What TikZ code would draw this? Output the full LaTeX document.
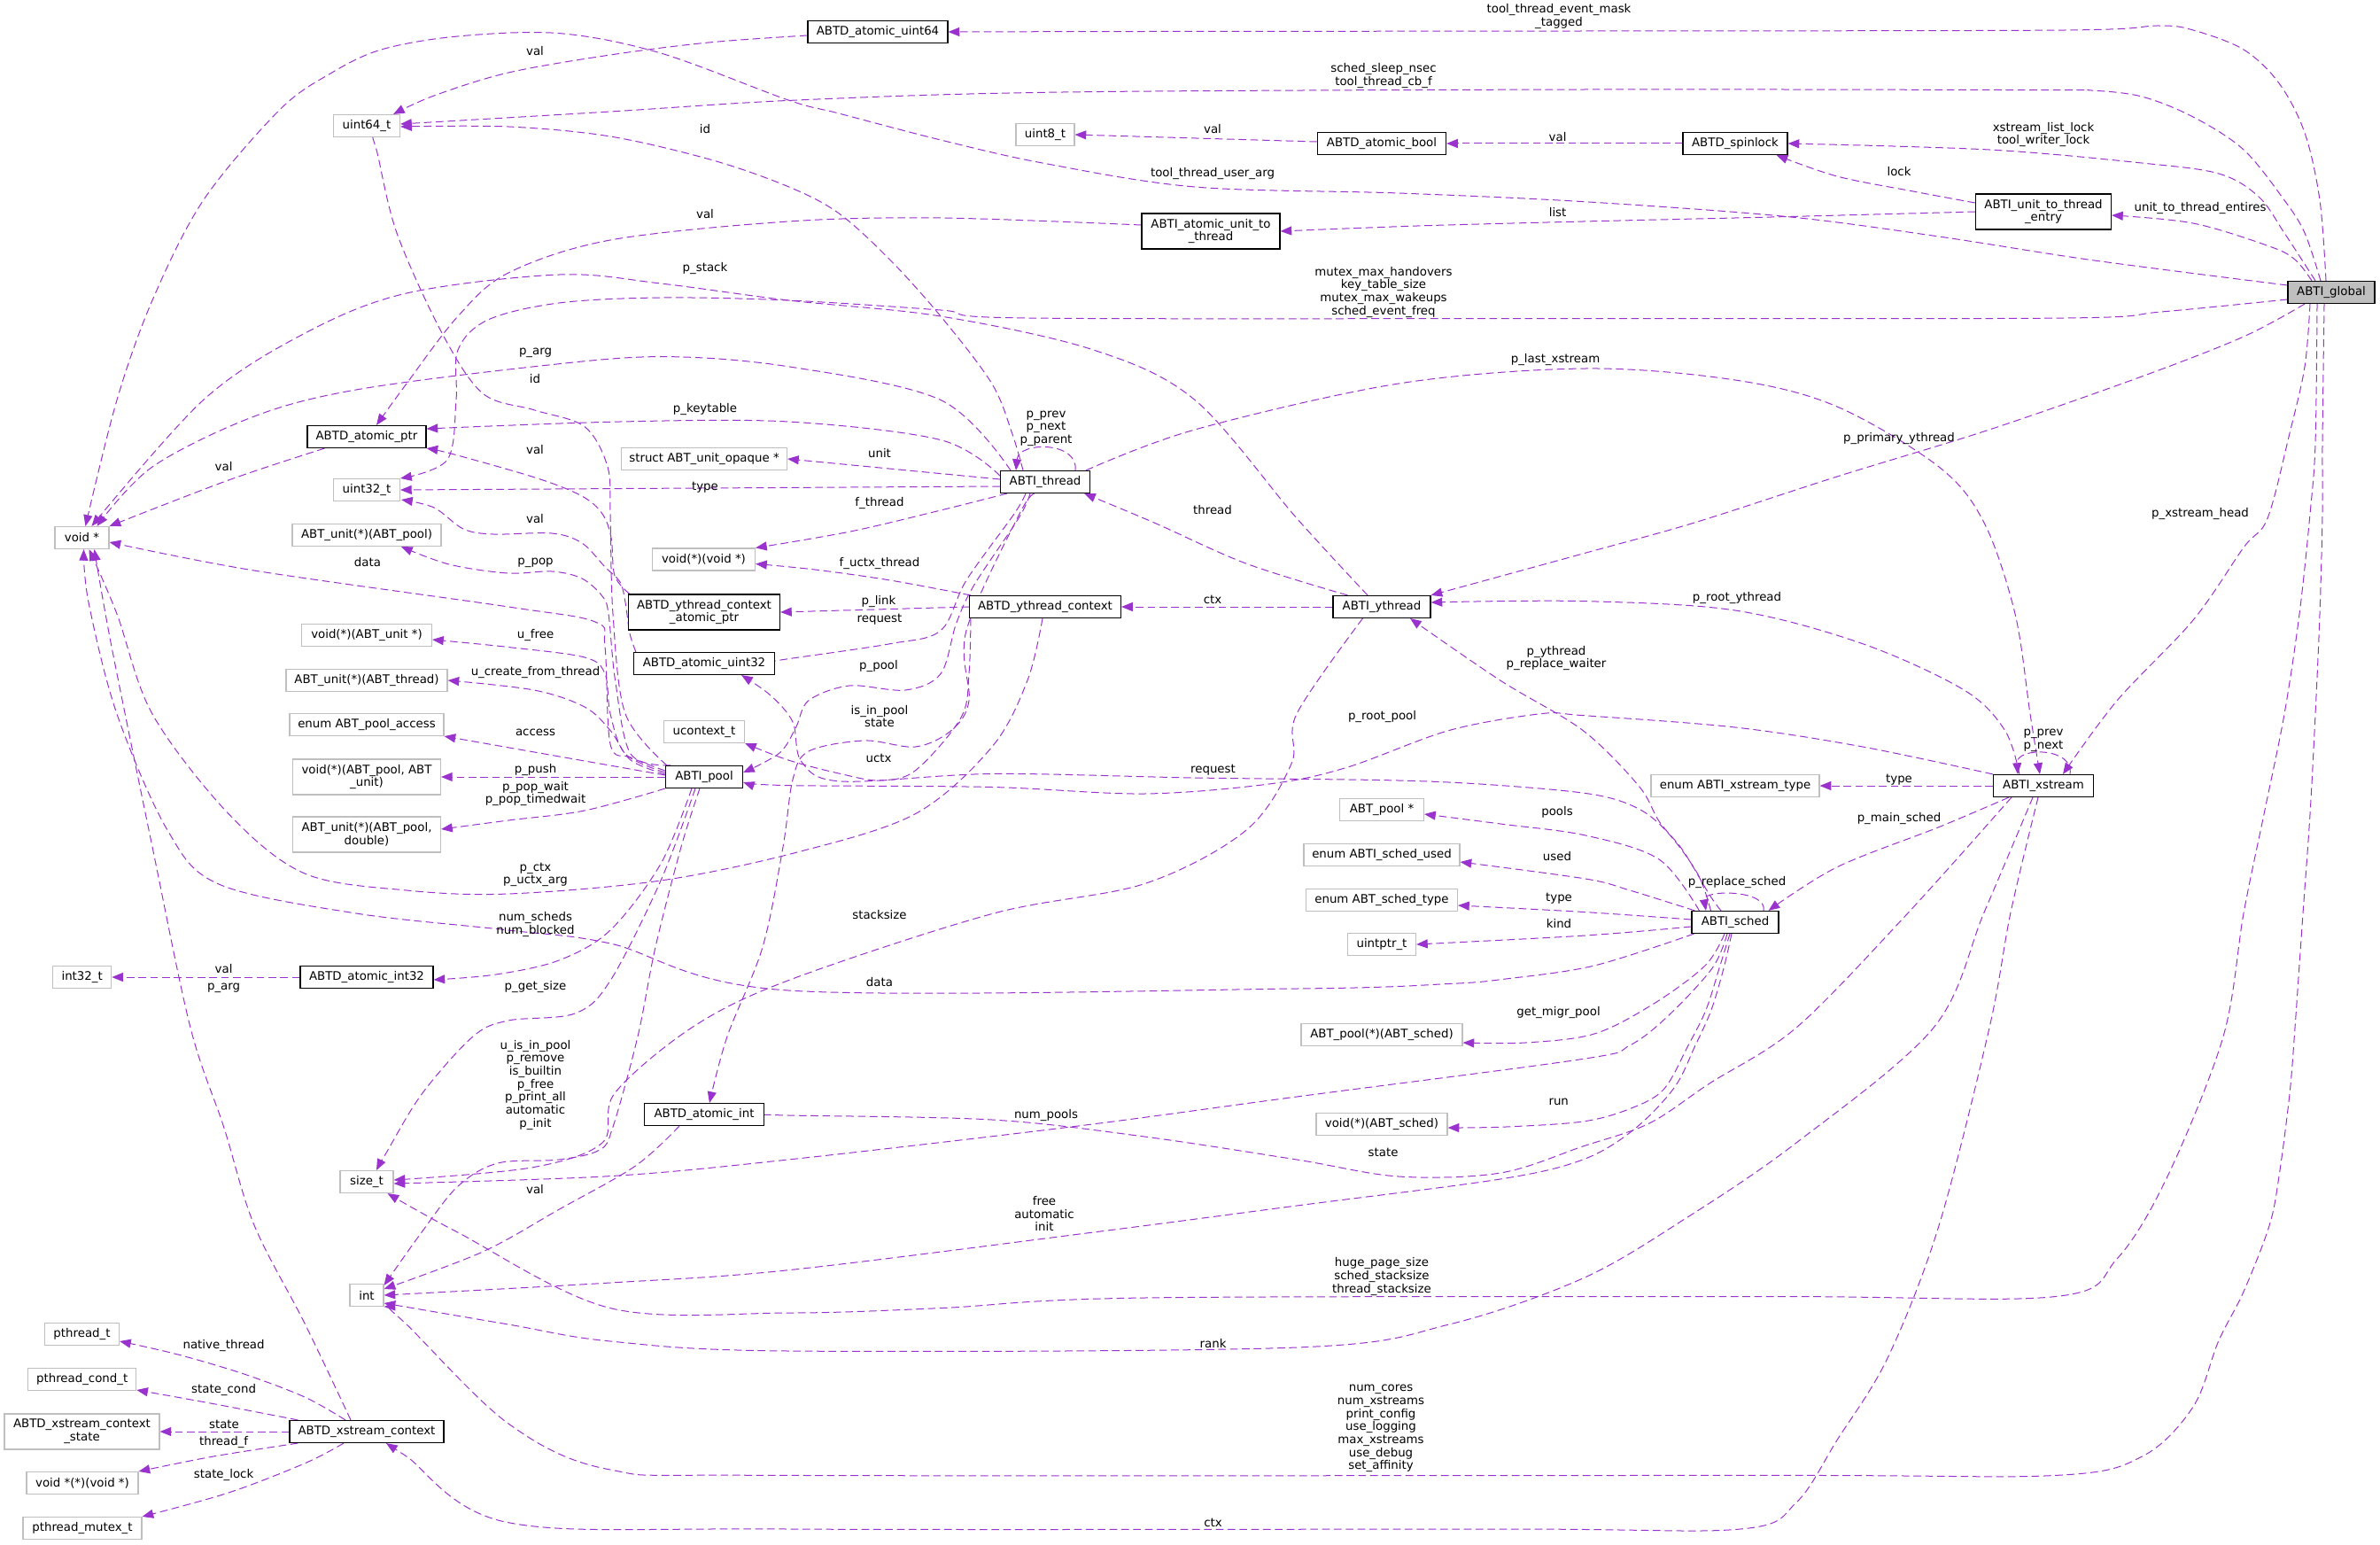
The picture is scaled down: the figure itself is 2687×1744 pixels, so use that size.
\documentclass[tikz,border=0pt]{standalone}
\usepackage{fontspec}
\setmainfont{DejaVu Sans}
\usetikzlibrary{arrows.meta,calc}
\definecolor{epurple}{HTML}{9A32CD}
\definecolor{gbord}{HTML}{BFBFBF}
\definecolor{gfill}{HTML}{BFBFBF}
\pgfdeclarelayer{bg}
\pgfsetlayers{bg,main}
\begin{document}
\begin{tikzpicture}[x=0.75pt,y=-0.75pt,
 font=\fontsize{10}{11}\selectfont,
 cls/.style={draw=black,line width=0.85pt,fill=white,inner sep=0pt,align=center,minimum height=18.75pt},
 ext/.style={draw=gbord,line width=0.85pt,fill=white,inner sep=0pt,align=center,minimum height=18.75pt},
 two/.style={minimum height=30pt},
 lab/.style={inner sep=0pt,align=center},
 edg/.style={draw=epurple,line width=0.75pt,dash pattern=on 6.5pt off 3.5pt,-{Triangle[length=9.5pt,width=7.5pt]}}]
\useasboundingbox (0,0) rectangle (2687,1744);
% ---------------- nodes
\node[cls,minimum width=118.5pt] (aui64) at (991,36) {ABTD\_atomic\_uint64};
\node[ext,minimum width=56.25pt] (uint64) at (414,142) {uint64\_t};
\node[ext,minimum width=49.5pt] (uint8) at (1180,152) {uint8\_t};
\node[cls,minimum width=108.75pt] (abool) at (1560,162) {ABTD\_atomic\_bool};
\node[cls,minimum width=88.5pt] (spinlock) at (1959,162) {ABTD\_spinlock};
\node[cls,two,minimum width=114.75pt] (entry) at (2307,239) {ABTI\_unit\_to\_thread\\\_entry};
\node[cls,two,minimum width=117pt] (aut) at (1367,261) {ABTI\_atomic\_unit\_to\\\_thread};
\node[cls,fill=gfill,minimum width=73.5pt] (global) at (2632,330) {ABTI\_global};
\node[cls,minimum width=100.5pt] (aptr) at (414,493) {ABTD\_atomic\_ptr};
\node[ext,minimum width=56.25pt] (uint32) at (414,553) {uint32\_t};
\node[ext,minimum width=140.25pt] (unitop) at (795,518) {struct ABT\_unit\_opaque *};
\node[cls,minimum width=75.75pt] (thread) at (1180,544) {ABTI\_thread};
\node[ext,minimum width=45.75pt] (voidp) at (92.5,607) {void *};
\node[ext,minimum width=126pt] (upool) at (414,604) {ABT\_unit(*)(ABT\_pool)};
\node[ext,minimum width=87pt] (vfv) at (794.5,631.5) {void(*)(void *)};
\node[cls,two,minimum width=128.25pt] (yctxptr) at (795,691) {ABTD\_ythread\_context\\\_atomic\_ptr};
\node[ext,minimum width=110.25pt] (vfunit) at (414,717) {void(*)(ABT\_unit *)};
\node[cls,minimum width=119.25pt] (auint32) at (795,749) {ABTD\_atomic\_uint32};
\node[ext,minimum width=136.5pt] (uthread) at (414,768) {ABT\_unit(*)(ABT\_thread)};
\node[ext,minimum width=130.5pt] (access) at (414,818) {enum ABT\_pool\_access};
\node[ext,minimum width=68.25pt] (ucontext) at (795,826) {ucontext\_t};
\node[ext,two,minimum width=125.25pt] (push) at (414,877) {void(*)(ABT\_pool, ABT\\\_unit)};
\node[cls,minimum width=65.25pt] (pool) at (795,877) {ABTI\_pool};
\node[ext,two,minimum width=125.25pt] (popwait) at (414,942) {ABT\_unit(*)(ABT\_pool,\\double)};
\node[cls,minimum width=128.25pt] (yctx) at (1180,685) {ABTD\_ythread\_context};
\node[cls,minimum width=82.5pt] (ythread) at (1560,685) {ABTI\_ythread};
\node[ext,minimum width=142.5pt] (xtype) at (1959,887) {enum ABTI\_xstream\_type};
\node[cls,minimum width=84.75pt] (xstream) at (2307,887) {ABTI\_xstream};
\node[ext,minimum width=71.25pt] (poolp) at (1560,914) {ABT\_pool *};
\node[ext,minimum width=132pt] (used) at (1560,965) {enum ABTI\_sched\_used};
\node[ext,minimum width=128.25pt] (stype) at (1560,1016) {enum ABT\_sched\_type};
\node[ext,minimum width=57.75pt] (uintptr) at (1560,1066) {uintptr\_t};
\node[cls,minimum width=73.5pt] (sched) at (1959,1041) {ABTI\_sched};
\node[ext,minimum width=136.5pt] (migr) at (1560,1168) {ABT\_pool(*)(ABT\_sched)};
\node[ext,minimum width=49.5pt] (int32) at (92.7,1103) {int32\_t};
\node[cls,minimum width=112.5pt] (aint32) at (414,1103) {ABTD\_atomic\_int32};
\node[cls,minimum width=101.25pt] (aint) at (795,1258) {ABTD\_atomic\_int};
\node[ext,minimum width=111pt] (vsched) at (1560,1269) {void(*)(ABT\_sched)};
\node[ext,minimum width=45pt] (sizet) at (414,1334) {size\_t};
\node[ext,minimum width=28.5pt] (int) at (414,1462) {int};
\node[ext,minimum width=63pt] (pthread) at (92.5,1506) {pthread\_t};
\node[ext,minimum width=91.5pt] (cond) at (92.7,1557) {pthread\_cond\_t};
\node[ext,two,minimum width=131.25pt] (xcstate) at (92.5,1616) {ABTD\_xstream\_context\\\_state};
\node[ext,minimum width=94.5pt] (vpfv) at (93,1674) {void *(*)(void *)};
\node[ext,minimum width=100.5pt] (mutex) at (93,1725) {pthread\_mutex\_t};
\node[cls,minimum width=130.5pt] (xctx) at (414,1616) {ABTD\_xstream\_context};
% ---------------- labels
\node[lab] (l1) at (1760,18.5) {tool\_thread\_event\_mask\\\_tagged};
\node[lab] (l2) at (604,58) {val};
\node[lab] (l3) at (1562,85.3) {sched\_sleep\_nsec\\tool\_thread\_cb\_f};
\node[lab] (l4) at (796,146) {id};
\node[lab] (l5) at (1369,146) {val};
\node[lab] (l6) at (1758.6,154.6) {val};
\node[lab] (l7) at (2307,152) {xstream\_list\_lock\\tool\_writer\_lock};
\node[lab] (l8) at (1369,196) {tool\_thread\_user\_arg};
\node[lab] (l9) at (2144,194) {lock};
\node[lab] (l10) at (2484,235.5) {unit\_to\_thread\_entires};
\node[lab] (l11) at (1758.6,240) {list};
\node[lab] (l12) at (796,242) {val};
\node[lab] (l13) at (796,303) {p\_stack};
\node[lab] (l14) at (1562,329.6) {mutex\_max\_handovers\\key\_table\_size\\mutex\_max\_wakeups\\sched\_event\_freq};
\node[lab] (l15) at (604.5,398.8) {p\_arg};
\node[lab] (l16) at (1756,406) {p\_last\_xstream};
\node[lab] (l17) at (604,428) {id};
\node[lab] (l18) at (796,462) {p\_keytable};
\node[lab] (l19) at (1181,483.8) {p\_prev\\p\_next\\p\_parent};
\node[lab] (l20) at (2144,495) {p\_primary\_ythread};
\node[lab] (l21) at (604,508) {val};
\node[lab] (l22) at (993,511.7) {unit};
\node[lab] (l23) at (252.6,527) {val};
\node[lab] (l24) at (796,550) {type};
\node[lab] (l25) at (993,568) {f\_thread};
\node[lab] (l26) at (1369,575.6) {thread};
\node[lab] (l27) at (2484,580) {p\_xstream\_head};
\node[lab] (l28) at (604,586) {val};
\node[lab] (l29) at (415,635) {data};
\node[lab] (l30) at (604.5,635) {p\_pop};
\node[lab] (l31) at (993,636.4) {f\_uctx\_thread};
\node[lab] (l32) at (1369,676.7) {ctx};
\node[lab] (l33) at (992,678.6) {p\_link};
\node[lab] (l34) at (1961,675) {p\_root\_ythread};
\node[lab] (l35) at (993,699.6) {request};
\node[lab] (l36) at (604.5,716.6) {u\_free};
\node[lab] (l37) at (1757,743) {p\_ythread\\p\_replace\_waiter};
\node[lab] (l38) at (992,752) {p\_pool};
\node[lab] (l39) at (604.5,759.5) {u\_create\_from\_thread};
\node[lab] (l40) at (993,808.4) {is\_in\_pool\\state};
\node[lab] (l41) at (1560.5,808.7) {p\_root\_pool};
\node[lab] (l42) at (604.5,826.4) {access};
\node[lab] (l43) at (2307,835.5) {p\_prev\\p\_next};
\node[lab] (l44) at (992,855.8) {uctx};
\node[lab] (l45) at (604.5,868.6) {p\_push};
\node[lab] (l46) at (1369.5,869) {request};
\node[lab] (l47) at (2144,880) {type};
\node[lab] (l48) at (604.5,896) {p\_pop\_wait\\p\_pop\_timedwait};
\node[lab] (l49) at (1758,916.7) {pools};
\node[lab] (l50) at (2144,923.5) {p\_main\_sched};
\node[lab] (l51) at (1758,966.4) {used};
\node[lab] (l52) at (604.5,987.3) {p\_ctx\\p\_uctx\_arg};
\node[lab] (l53) at (1961,995.7) {p\_replace\_sched};
\node[lab] (l54) at (1760,1014.5) {type};
\node[lab] (l55) at (993,1032.6) {stacksize};
\node[lab] (l56) at (604.5,1043.7) {num\_scheds\\num\_blocked};
\node[lab] (l57) at (1760,1042.7) {kind};
\node[lab] (l58) at (252.6,1094) {val};
\node[lab] (l59) at (993,1108.6) {data};
\node[lab] (l60) at (252.6,1115) {p\_arg};
\node[lab] (l61) at (604.5,1114) {p\_get\_size};
\node[lab] (l62) at (1759.5,1142.5) {get\_migr\_pool};
\node[lab] (l63) at (604.5,1224.6) {u\_is\_in\_pool\\p\_remove\\is\_builtin\\p\_free\\p\_print\_all\\automatic\\p\_init};
\node[lab] (l64) at (1759.7,1243.8) {run};
\node[lab] (l65) at (1181,1258.7) {num\_pools};
\node[lab] (l66) at (1561.6,1300.8) {state};
\node[lab] (l67) at (604,1342.5) {val};
\node[lab] (l68) at (1179,1370) {free\\automatic\\init};
\node[lab] (l69) at (1560,1441) {huge\_page\_size\\sched\_stacksize\\thread\_stacksize};
\node[lab] (l70) at (1369.6,1516.4) {rank};
\node[lab] (l71) at (252.6,1519.4) {native\_thread};
\node[lab] (l72) at (1559,1612.5) {num\_cores\\num\_xstreams\\print\_config\\use\_logging\\max\_xstreams\\use\_debug\\set\_affinity};
\node[lab] (l73) at (252.6,1568.6) {state\_cond};
\node[lab] (l74) at (253,1607.7) {state};
\node[lab] (l75) at (252.6,1628) {thread\_f};
\node[lab] (l76) at (252.6,1664.7) {state\_lock};
\node[lab] (l77) at (1369.6,1718.7) {ctx};
% ---------------- edges
\begin{pgfonlayer}{bg}
\fill[white] (0,0) rectangle (2687,1744);
% atomic_uint64 -> uint64
\draw[edg] plot[smooth,tension=0.55] coordinates {($(aui64.west)+(0,4)$) (800,48) (689,62) (574,82) (490,108) ($(uint64.north east)+(-8,0)$)};
% global -> atomic_uint64
\draw[edg] plot[smooth,tension=0.55] coordinates {($(global.north)+(-6,0)$) (2619,226) (2602,150) (2573,94) (2533,56) (2476,34) (2436,29) (2332,34) (1787,35) (1300,35.5) (aui64.east)};
% global -> uint64
\draw[edg] plot[smooth,tension=0.55] coordinates {($(global.north)+(-12,0)$) (2602,263) (2579,226) (2533,169) (2476,132) (2418,109) (2361,102) (2304,101.6) (1790,101) (1200,104) (900,113) (689,126) ($(uint64.east)+(0,-2)$)};
% global -> void* (tool_thread_user_arg)
\draw[edg] plot[smooth,tension=0.55] coordinates {($(global.west)+(0,-8)$) (2361,293.5) (2189,267) (2017,244.5) (1787,227.6) (1579,218) (1349,211) (1177,184) (1062,158) (947,128) (890,113) (746,60) (631.5,37.6) (516.6,41) (430.5,56) (373,83) (315.7,124) (229.6,226) (172,339) (132,451.5) ($(voidp.north)+(4,0)$)};
% global -> spinlock
\draw[edg] plot[smooth,tension=0.55] coordinates {($(global.north)+(-18,0)$) (2579,263) (2550,222) (2505,196) (2418,184) (2246,169) (spinlock.east)};
% global -> entry
\draw[edg] plot[smooth,tension=0.55] coordinates {($(global.north)+(-22,0)$) (2591,293) (2562,278) (2476,252) ($(entry.east)+(0,4)$)};
% entry -> spinlock
\draw[edg] plot[smooth,tension=0.55] coordinates {($(entry.west)+(0,-10)$) (2160,216) (2074,199) ($(spinlock.south east)+(-13,0)$)};
% entry -> atomic_unit_to_thread
\draw[edg] plot[smooth,tension=0.55] coordinates {(entry.west) (2000,245) (1787,250) (1600,255) (aut.east)};
% spinlock -> atomic_bool
\draw[edg] (spinlock.west) -- (abool.east);
% atomic_bool -> uint8
\draw[edg] ($(abool.west)+(0,-2)$) -- (uint8.east);
% atomic_unit_to_thread -> atomic_ptr
\draw[edg] plot[smooth,tension=0.55] coordinates {($(aut.west)+(0,-7)$) (1062,246) (890,250) (689,271) (574,308) (517,357) (459,433) ($(aptr.north)+(11,0)$)};
% global -> xstream (p_xstream_head)
\draw[edg] plot[smooth,tension=0.55] coordinates {($(global.south)+(-24,0)$) (2602,414) (2585,489) (2560,585) (2533,618) (2476,700) (2390,791) ($(xstream.north)+(22,0)$)};
% global -> ythread (p_primary_ythread)
\draw[edg] plot[smooth,tension=0.55] coordinates {($(global.south)+(-30,0)$) (2533,380) (2418,425) (2246,485) (2074,538) (1913,590) (1787,625) (ythread.north east)};
% global -> uint32
\draw[edg] plot[smooth,tension=0.55] coordinates {($(global.west)+(0,8)$) (2440,352) (2332,359) (1800,359.5) (1160,359) (1062,350) (890,339) (746,336) (631,342) (551,361) (517,395) (515,451) (505,519) (uint32.north east)};
% thread -> xstream (p_last_xstream)
\draw[edg] plot[smooth,tension=0.55] coordinates {($(thread.north east)+(-5,0)$) (1349,485) (1579,433) (1790,416) (1959,429) (2074,459) (2189,527) (2240,590) (2275,693) (2292,806) ($(xstream.north)+(-4,0)$)};
% thread self loop
\draw[edg] ($(thread.north)+(34,0)$) .. controls (1218,498) and (1150,498) .. ($(thread.north)+(-33,0)$);
% thread -> uint64 (id)
\draw[edg] plot[smooth,tension=0.55] coordinates {($(thread.north)+(-25,0)$) (1142.6,489) (1119.6,432.7) (1062,357) (1005,293.5) (947,240.8) (890,210.7) (803.7,180.6) (689,154) (574,143) ($(uint64.east)+(0,1)$)};
% pool -> uint64 (id)
\draw[edg] plot[smooth,tension=0.55] coordinates {($(pool.north west)+(2,0)$) (706,805.7) (692,693) (689,580) (686,527) (660,481.6) (603,462.8) (545,444) (499,376) (448,263) (425,169) ($(uint64.south)+(4,0)$)};
% ythread -> void* (p_stack)
\draw[edg] plot[smooth,tension=0.55] coordinates {($(ythread.north)+(-16,0)$) (1464,585) (1349,451.5) (1234.5,395) (1062,357) (890,339) (746,320) (631.5,310) (459,331) (344.5,376) (229.6,451.5) ($(voidp.north)+(11,0)$)};
% thread -> void* (p_arg)
\draw[edg] plot[smooth,tension=0.55] coordinates {($(thread.north west)+(12,0)$) (1062,451.5) (890,413.8) (746,402.6) (603,413.8) (402,440) (287,470) (172,527) ($(voidp.north)+(17,0)$)};
% atomic_ptr -> void*
\draw[edg] plot[smooth,tension=0.55] coordinates {($(aptr.south west)+(20,0)$) (258,542) (voidp.north east)};
% thread -> atomic_ptr (p_keytable)
\draw[edg] plot[smooth,tension=0.55] coordinates {($(thread.west)+(0,-7)$) (1062,496.6) (890,476) (700,476) ($(aptr.east)+(0,-9)$)};
% thread -> unit
\draw[edg] ($(thread.west)+(0,-3)$) -- (unitop.east);
% thread -> uint32 (type)
\draw[edg] ($(thread.west)+(0,5)$) -- (uint32.east);
% thread -> void(*)(void*) (f_thread)
\draw[edg] plot[smooth,tension=0.55] coordinates {($(thread.south west)+(8,0)$) (1062,576) (960,600) (vfv.north east)};
% thread -> atomic_uint32 (request)
\draw[edg] plot[smooth,tension=0.55] coordinates {($(thread.south)+(-22,0)$) (1145,580) (1091,655) (1062,711.7) (1005,726.7) (890,743.7) ($(auint32.east)+(0,-3)$)};
% thread -> pool (p_pool)
\draw[edg] plot[smooth,tension=0.55] coordinates {($(thread.south)+(-17,0)$) (1150,585) (1100,660) (1079.5,704) (1062,760.6) (1022,779) (959,774) (913,790.7) (898.6,821) (880,850) ($(pool.east)+(0,-5)$)};
% thread -> atomic_int (is_in_pool state)
\draw[edg] plot[smooth,tension=0.55] coordinates {($(thread.south)+(-12,0)$) (1151,580) (1091,711.7) (1094,790.7) (1074,824.5) (1033.5,843) (976,836) (913,848) (895,880) (884,956) (861,1069) (821,1170) ($(aint.north)+(6,0)$)};
% ythread -> thread
\draw[edg] plot[smooth,tension=0.55] coordinates {($(ythread.north west)+(17,0)$) (1406.6,636) (1303,590) ($(thread.south east)+(-7,0)$)};
% ythread -> ythread_context
\draw[edg] (ythread.west) -- (yctx.east);
% ythread -> size_t (stacksize)
\draw[edg] plot[smooth,tension=0.55] coordinates {($(ythread.south west)+(34,0)$) (1464,805.7) (1458,862) (1406.6,937.4) (1292,997.6) (1120,1031.5) (890,1106.7) (781,1160) (694,1234) (680,1290) (600,1318) ($(sizet.east)+(0,-2)$)};
% ythread_context -> void* (p_ctx)
\draw[edg] plot[smooth,tension=0.55] coordinates {($(yctx.south)+(-3,0)$) (1160,768) (1120,843) (1033.5,918.6) (900,962) (746,994) (574,1009) (459,1005) (344,986) (258,918.6) (172,806) (132,693) ($(voidp.south)+(8,0)$)};
% ythread_context -> void(*)(void*)
\draw[edg] plot[smooth,tension=0.55] coordinates {($(yctx.north west)+(2,0)$) (1005,655) (920,643) ($(vfv.east)+(0,5)$)};
% ythread_context -> context_atomic_ptr
\draw[edg] (yctx.west) -- (yctxptr.east);
% ythread_context -> ucontext
\draw[edg] plot[smooth,tension=0.55] coordinates {($(yctx.south west)+(2,0)$) (1094,760) (1085,810) (1033.5,869.7) (993,881) (947,873) (890,858) (ucontext.south east)};
% context_atomic_ptr -> atomic_ptr
\draw[edg] plot[smooth,tension=0.55] coordinates {($(yctxptr.north west)+(2,0)$) (694,650) (690,607) (680,580) (657,560) (607,540) (513,513) (aptr.south east)};
% atomic_uint32 -> uint32
\draw[edg] plot[smooth,tension=0.55] coordinates {($(auint32.north west)+(3,0)$) (711,715) (706,680) (700,657) (683,640) (657,613) (623,602) (557,603) (523,597) (490,573) ($(uint32.south east)+(1,-2)$)};
% pool -> void* (data)
\draw[edg] plot[smooth,tension=0.55] coordinates {($(pool.west)+(0,-7)$) (712,855) (689,840) (683,730) (672,702) (574,685) (287,644) ($(voidp.east)+(0,5)$)};
% pool -> p_pop
\draw[edg] plot[smooth,tension=0.55] coordinates {($(pool.north west)+(6,0)$) (712,851) (694.6,768) (687,693) (680,673) (657,653) (623,645) (573,647) (507,637) ($(upool.south)+(39,0)$)};
% pool -> u_free
\draw[edg] plot[smooth,tension=0.55] coordinates {($(pool.west)+(0,-5)$) (706,851) (689,805.7) (683,760.6) (660,742) (574,730.5) ($(vfunit.east)+(0,5)$)};
% pool -> u_create_from_thread
\draw[edg] plot[smooth,tension=0.55] coordinates {($(pool.west)+(0,-3)$) (712,858) (689,824.5) (660,798) (603,779) (uthread.east)};
% pool -> access
\draw[edg] ($(pool.west)+(0,-2)$) -- (access.south east);
% pool -> p_push
\draw[edg] (pool.west) -- (push.east);
% pool -> p_pop_wait
\draw[edg] plot[smooth,tension=0.55] coordinates {(pool.south west) (660,915) (574,926) ($(popwait.east)+(0,-6)$)};
% pool -> atomic_int32
\draw[edg] plot[smooth,tension=0.55] coordinates {($(pool.south)+(-14,0)$) (746,975) (689,1050) (631,1084) (560,1100) ($(aint32.east)+(0,3)$)};
% pool -> size_t (p_get_size)
\draw[edg] plot[smooth,tension=0.55] coordinates {($(pool.south)+(-10,0)$) (746,994) (689,1107) (649,1144) (574,1152) (534,1170) (476.5,1234.5) (436,1301.5) ($(sizet.north)+(11,0)$)};
% pool -> int
\draw[edg] plot[smooth,tension=0.55] coordinates {($(pool.south)+(-5,0)$) (769,956) (740,1069) (720,1170) (692,1272) (677,1298) (631,1309) (562,1313) (517,1339) (476,1391) ($(int.north east)+(0,2)$)};
% atomic_int32 -> int32
\draw[edg] (aint32.west) -- (int32.east);
% xstream_context -> void* (p_arg)
\draw[edg] plot[smooth,tension=0.55] coordinates {($(xctx.north)+(-18,0)$) (344.6,1495) (287,1383) (252.6,1272) (215,1160) (172,956) (126,730) ($(voidp.south)+(14,0)$)};
% sched -> void* (data)
\draw[edg] plot[smooth,tension=0.55] coordinates {($(sched.south west)+(3,0)$) (1800,1090) (1700,1105) (1636,1110.5) (1464,1116) (890,1118) (689,1065) (574,1050) (402,1031) (247,998) (189,937) (132,806) (100,680) ($(voidp.south)+(2,0)$)};
% xstream_context edges
\draw[edg] plot[smooth,tension=0.55] coordinates {($(xctx.north)+(-24,0)$) (344,1577) (275.5,1551) (201,1529) ($(pthread.east)+(0,8)$)};
\draw[edg] plot[smooth,tension=0.55] coordinates {($(xctx.north west)+(10,0)$) (241,1584.6) ($(cond.east)+(0,12)$)};
\draw[edg] (xctx.west) -- (xcstate.east);
\draw[edg] plot[smooth,tension=0.55] coordinates {($(xctx.south west)+(10,0)$) (241,1644) (vpfv.north east)};
\draw[edg] plot[smooth,tension=0.55] coordinates {($(xctx.south)+(-26,0)$) (344.6,1651.6) (258,1685) (mutex.north east)};
% atomic_int -> int
\draw[edg] plot[smooth,tension=0.55] coordinates {($(aint.south west)+(40,0)$) (717.5,1316) (631.5,1365) (545,1413) ($(int.east)+(0,-7)$)};
% sched -> int (free automatic init)
\draw[edg] plot[smooth,tension=0.55] coordinates {($(sched.south)+(-4,0)$) (1946,1093) (1932,1140) (1914,1180) (1890,1228) (1844,1275.5) (1787,1309) (1693.7,1331) (1464,1361) (1234.5,1391) (890,1433.7) (689,1448) (int.east)};
% sched -> size_t (num_pools)
\draw[edg] plot[smooth,tension=0.55] coordinates {($(sched.south)+(-9,0)$) (1933,1093) (1883,1147) (1840,1180) (1787,1195.4) (1464,1238) (1211.6,1271.7) (890,1309) (689,1327.6) ($(sizet.east)+(0,2)$)};
% sched -> run
\draw[edg] plot[smooth,tension=0.55] coordinates {($(sched.south)+(-6,0)$) (1941,1093) (1926,1140) (1906,1180) (1878,1230) (1839,1252) (1787,1266) (1700,1272) ($(vsched.east)+(0,4)$)};
% sched -> get_migr_pool
\draw[edg] plot[smooth,tension=0.55] coordinates {($(sched.south)+(-12,0)$) (1925,1090) (1867,1133) (1800,1167) (1722,1177) ($(migr.east)+(0,9)$)};
% xstream -> atomic_int (state)
\draw[edg] plot[smooth,tension=0.55] coordinates {($(xstream.south west)+(21,0)$) (2150,1035) (2028,1160) (1930,1223) (1862,1268) (1787,1294) (1694,1324) (1579,1328) (1464,1309) (1292,1283) (1120,1264) (890,1259) (aint.east)};
% xstream -> int (rank)
\draw[edg] plot[smooth,tension=0.55] coordinates {($(xstream.south)+(-12,0)$) (2240,1030) (2183,1160) (2028,1290) (1902,1376) (1787,1443) (1636,1495) (1464,1521) (890,1525) (689,1514) (574,1495) ($(int.east)+(0,9)$)};
% xstream -> xstream_context (ctx)
\draw[edg] plot[smooth,tension=0.55] coordinates {($(xstream.south)+(-6,0)$) (2270,1030) (2246,1160) (2189,1383.5) (2131.5,1532) (2074,1625.6) (2028,1696) (1965,1726) (1700,1726) (890,1726) (574,1718.7) (459,1644) ($(xctx.south)+(22,0)$)};
% global -> size_t
\draw[edg] plot[smooth,tension=0.55] coordinates {($(global.south)+(-16,0)$) (2614,500) (2608,580) (2596,693) (2579,806) (2556,919) (2533,1031) (2510,1170) (2447,1328) (2390,1421) (2321,1463.5) (2000,1463.5) (1292,1465) (1062,1476.6) (890,1482) (689,1476.6) (516.6,1391) ($(sizet.south east)+(-7,0)$)};
% global -> int
\draw[edg] plot[smooth,tension=0.55] coordinates {($(global.south)+(-8,0)$) (2622,500) (2622,580) (2619,693) (2614,806) (2608,919) (2600,1031) (2591,1160) (2585,1234.5) (2573,1327.6) (2562,1383.5) (2533,1458) (2504.6,1514) (2476,1588) (2418.5,1644) (2321,1665.4) (2000,1665.4) (890,1665.4) (689,1659) (574,1607) (459,1495) (int.south east)};
% xstream self loop
\draw[edg] ($(xstream.north)+(30,0)$) .. controls (2342,843) and (2276,843) .. ($(xstream.north)+(-29,0)$);
% xstream -> type
\draw[edg] (xstream.west) -- (xtype.east);
% xstream -> sched
\draw[edg] plot[smooth,tension=0.55] coordinates {($(xstream.south west)+(18,0)$) (2189,933.6) (2074,978.8) ($(sched.north east)+(-12,0)$)};
% xstream -> ythread (p_root_ythread)
\draw[edg] plot[smooth,tension=0.55] coordinates {($(xstream.north west)+(30,0)$) (2263.5,824.5) (2217.5,779) (2103,726.7) (1959,689) (1787,678.6) ($(ythread.east)+(0,-5)$)};
% xstream -> pool (p_root_pool)
\draw[edg] plot[smooth,tension=0.55] coordinates {(xstream.north west) (2103,843) (1959,821) (1787,807.6) (1739.6,805.7) (1636,824.5) (1521.5,866) (1435,884.7) (1292,896) (1120,888.5) (890,886.6) ($(pool.east)+(0,6)$)};
% sched -> atomic_uint32 (request)
\draw[edg] plot[smooth,tension=0.55] coordinates {($(sched.north west)+(22,0)$) (1917,987) (1883,940) (1850,913) (1800,897) (1700,887) (1579,881) (1349,878) (1120,873.5) (950,882) (905,860) (895,815) (870,785) ($(auint32.south east)+(-38,0)$)};
% sched -> ythread
\draw[edg] plot[smooth,tension=0.55] coordinates {($(sched.north)+(-16,0)$) (1930,1010) (1900,960) (1873,927) (1850,887) (1787,824.5) (1693.7,768) ($(ythread.south)+(32,0)$)};
% sched -> pools
\draw[edg] plot[smooth,tension=0.55] coordinates {($(sched.north west)+(9,0)$) (1873,970) (1790,943) (1694,930) ($(poolp.east)+(0,5)$)};
% sched -> used
\draw[edg] plot[smooth,tension=0.55] coordinates {($(sched.north west)+(4,0)$) (1840,1005) (1790,992) ($(used.east)+(0,8)$)};
% sched -> type
\draw[edg] plot[smooth,tension=0.55] coordinates {($(sched.west)+(0,-3)$) (1790,1029.6) ($(stype.east)+(0,6)$)};
% sched -> kind
\draw[edg] plot[smooth,tension=0.55] coordinates {($(sched.west)+(0,5)$) (1790,1056) (uintptr.east)};
% sched self loop
\draw[edg] ($(sched.north)+(32,0)$) .. controls (1996,1004) and (1922,1004) .. ($(sched.north)+(-33,0)$);
\end{pgfonlayer}
\end{tikzpicture}
\end{document}
